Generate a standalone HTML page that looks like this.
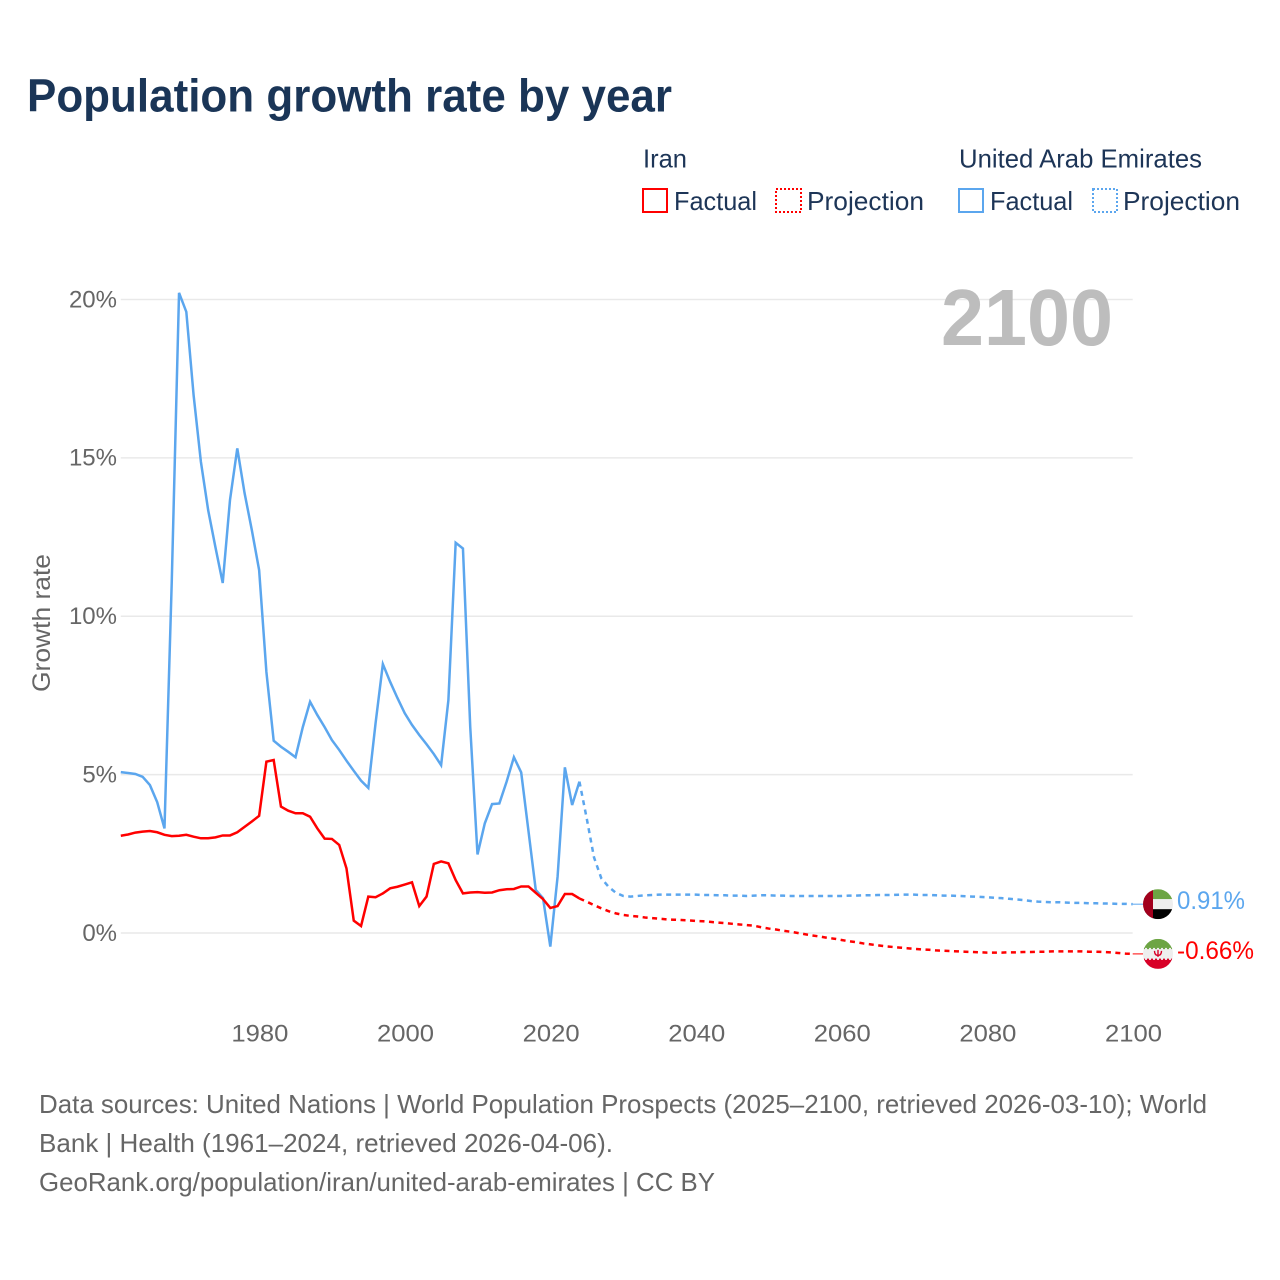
<!DOCTYPE html>
<html lang="en">
<head>
<meta charset="utf-8">
<title>Population growth rate by year</title>
<style>
  html, body { margin: 0; padding: 0; background: #fff; }
  svg { display: block; font-family: "Liberation Sans", Arial, sans-serif; }
</style>
</head>
<body>
<svg id="chart" xmlns="http://www.w3.org/2000/svg" width="1280" height="1280" viewBox="0 0 1280 1280">
  <rect x="0" y="0" width="1280" height="1280" fill="#ffffff"/>

  <text x="27" y="111.5" font-size="46" font-weight="700" fill="#1a3557" textLength="645" lengthAdjust="spacingAndGlyphs">Population growth rate by year</text>

  <g font-size="26" fill="#1d3557">
    <text x="643" y="167.5" textLength="44" lengthAdjust="spacingAndGlyphs">Iran</text>
    <text x="959" y="167.5" textLength="243" lengthAdjust="spacingAndGlyphs">United Arab Emirates</text>

    <rect x="643" y="189" width="24" height="23" fill="none" stroke="#ff0000" stroke-width="2"/>
    <text x="674" y="210" textLength="83" lengthAdjust="spacingAndGlyphs">Factual</text>
    <rect x="776" y="189" width="25" height="23" fill="none" stroke="#ff0000" stroke-width="2" stroke-dasharray="2 2"/>
    <text x="807" y="210" textLength="117" lengthAdjust="spacingAndGlyphs">Projection</text>

    <rect x="959" y="189" width="24" height="23" fill="none" stroke="#5ba6ee" stroke-width="2"/>
    <text x="990" y="210" textLength="83" lengthAdjust="spacingAndGlyphs">Factual</text>
    <rect x="1093" y="189" width="24" height="23" fill="none" stroke="#5ba6ee" stroke-width="2" stroke-dasharray="2 2"/>
    <text x="1123" y="210" textLength="117" lengthAdjust="spacingAndGlyphs">Projection</text>
  </g>

  <g id="grid"></g>
  <g id="y-ticks"></g>
  <g id="x-ticks"></g>

  <text transform="translate(50,623) rotate(-90)" text-anchor="middle" font-size="25" fill="#666666" textLength="138" lengthAdjust="spacingAndGlyphs">Growth rate</text>

  <text x="1113" y="345" text-anchor="end" font-size="80" font-weight="700" fill="#bdbdbd" textLength="172" lengthAdjust="spacingAndGlyphs">2100</text>

  <g id="series"></g>
  <g id="end-markers"></g>

  <g font-size="26" fill="#666666">
    <text x="39" y="1113" textLength="1168" lengthAdjust="spacingAndGlyphs">Data sources: United Nations | World Population Prospects (2025–2100, retrieved 2026-03-10); World</text>
    <text x="39" y="1152" textLength="574" lengthAdjust="spacingAndGlyphs">Bank | Health (1961–2024, retrieved 2026-04-06).</text>
    <text x="39" y="1191" textLength="676" lengthAdjust="spacingAndGlyphs">GeoRank.org/population/iran/united-arab-emirates | CC BY</text>
  </g>
</svg>

<script>
const factualStartYear = 1961;
const projectionStartYear = 2024;

const iranFactual = [3.07,3.11,3.17,3.2,3.22,3.18,3.1,3.06,3.07,3.1,3.04,2.99,2.99,3.02,3.08,3.08,3.18,3.35,3.52,3.7,
  5.41,5.46,3.99,3.86,3.78,3.78,3.67,3.3,2.98,2.97,2.78,2.04,0.39,0.22,1.15,1.13,1.25,1.41,1.46,1.53,
  1.6,0.85,1.15,2.18,2.26,2.2,1.67,1.25,1.28,1.29,1.27,1.28,1.35,1.38,1.39,1.47,1.47,1.27,1.07,0.79,
  0.85,1.23,1.23,1.09];

const uaeFactual = [5.08,5.05,5.02,4.93,4.67,4.13,3.3,11.1,20.21,19.61,16.98,14.88,13.35,12.18,11.05,13.67,15.3,13.89,12.72,11.46,
  8.24,6.07,5.88,5.72,5.55,6.5,7.3,6.88,6.5,6.09,5.78,5.44,5.12,4.81,4.58,6.63,8.49,7.93,7.42,6.94,
  6.57,6.25,5.96,5.65,5.3,7.35,12.32,12.14,6.51,2.48,3.46,4.07,4.09,4.78,5.55,5.07,3.22,1.36,1.1,-0.43,
  1.78,5.23,4.04,4.78];

const iranProjection = [1.09,0.99,0.88,0.78,0.69,0.62,0.57,0.54,0.52,0.49,0.47,0.45,0.43,0.42,0.41,0.4,0.38,
  0.37,0.35,0.33,0.31,0.29,0.27,0.25,0.23,0.18,0.14,
  0.11,0.07,0.04,0.0,-0.04,-0.08,-0.11,-0.15,-0.18,-0.22,
  -0.26,-0.29,-0.33,-0.36,-0.39,-0.42,-0.44,-0.46,-0.48,-0.5,
  -0.52,-0.53,-0.55,-0.56,-0.57,-0.58,-0.59,-0.6,-0.61,-0.62,
  -0.62,-0.62,-0.61,-0.61,-0.6,-0.6,-0.59,-0.59,-0.58,-0.58,
  -0.58,-0.58,-0.58,-0.59,-0.59,-0.6,-0.61,-0.63,-0.65,-0.66];

const uaeProjection = [4.78,3.62,2.39,1.73,1.46,1.27,1.17,1.15,1.17,1.19,1.2,1.21,1.21,1.21,1.21,1.21,1.21,
  1.2,1.2,1.19,1.19,1.18,1.18,1.17,1.18,1.19,1.19,
  1.18,1.18,1.17,1.17,1.17,1.17,1.17,1.17,1.17,1.17,
  1.18,1.18,1.19,1.19,1.2,1.2,1.2,1.21,1.21,1.21,
  1.2,1.2,1.19,1.18,1.18,1.17,1.16,1.15,1.14,1.13,
  1.11,1.1,1.08,1.06,1.04,1.01,0.99,0.98,0.97,0.97,
  0.96,0.95,0.95,0.94,0.94,0.93,0.93,0.92,0.92,0.91];

const yTickValues = [0,5,10,15,20];
const yTickLabels = ['0%','5%','10%','15%','20%'];
const xTickValues = [1980,2000,2020,2040,2060,2080,2100];
const xTickLabels = ['1980','2000','2020','2040','2060','2080','2100'];

const SVGNS = 'http://www.w3.org/2000/svg';
const RED = '#ff0000';
const BLUE = '#5ba6ee';

function xScale(year) {
  return 120.8 + (year - 1961) * (1132.7 - 120.8) / (2100 - 1961);
}
function yScale(value) {
  return 933 + value * (299.5 - 933) / 20;
}
function make(tag, attrs) {
  const el = document.createElementNS(SVGNS, tag);
  for (const k in attrs) el.setAttribute(k, attrs[k]);
  return el;
}
function pathFrom(values, startYear) {
  return values.map((v, i) => (i ? 'L' : 'M') + xScale(startYear + i).toFixed(2) + ' ' + yScale(v).toFixed(2)).join(' ');
}

const gridG = document.getElementById('grid');
const yG = document.getElementById('y-ticks');
yTickValues.forEach((v, i) => {
  const line = make('line', {x1: xScale(1961), x2: xScale(2100), y1: yScale(v), y2: yScale(v), stroke: '#e9e9e9', 'stroke-width': 1.4});
  
  
  gridG.appendChild(line);
  const t = make('text', {x: 117, y: yScale(v) + 7.8, 'text-anchor': 'end', 'font-size': 24, fill: '#666666'});
  
  
  t.textContent = yTickLabels[i];
  yG.appendChild(t);
});

const xG = document.getElementById('x-ticks');
xTickValues.forEach((v, i) => {
  const t = make('text', {x: xScale(v) + 0.8, y: 1041.3, 'text-anchor': 'middle', 'font-size': 24, fill: '#666666', textLength: 57, lengthAdjust: 'spacingAndGlyphs'});
  
  
  t.textContent = xTickLabels[i];
  xG.appendChild(t);
});

const seriesG = document.getElementById('series');

const uaeProjLine = make('path', {d: pathFrom(uaeProjection, projectionStartYear), fill: 'none', stroke: BLUE, 'stroke-width': 2.5, 'stroke-dasharray': '5 4.5'});


seriesG.appendChild(uaeProjLine);

const iranProjLine = make('path', {d: pathFrom(iranProjection, projectionStartYear), fill: 'none', stroke: RED, 'stroke-width': 2.5, 'stroke-dasharray': '5 4.5'});


seriesG.appendChild(iranProjLine);

const uaeLine = make('path', {d: pathFrom(uaeFactual, factualStartYear), fill: 'none', stroke: BLUE, 'stroke-width': 2.5, 'stroke-linejoin': 'miter'});


seriesG.appendChild(uaeLine);

const iranLine = make('path', {d: pathFrom(iranFactual, factualStartYear), fill: 'none', stroke: RED, 'stroke-width': 2.5, 'stroke-linejoin': 'miter'});


seriesG.appendChild(iranLine);

const markersG = document.getElementById('end-markers');
const flagX = 1158;
const flagR = 15;

function addClip(id, cy) {
  const cp = make('clipPath', {id: id});
  cp.appendChild(make('circle', {cx: flagX, cy: cy, r: flagR}));
  markersG.appendChild(cp);
}

/* UAE end marker */
const uaeEnd = uaeProjection[uaeProjection.length - 1];
const uaeY = yScale(uaeEnd);
const uaeConnector = make('line', {x1: xScale(2100), x2: flagX - flagR, y1: uaeY, y2: uaeY, stroke: BLUE, 'stroke-width': 1});


markersG.appendChild(uaeConnector);
addClip('clip-uae', uaeY);
const uaeFlag = make('g', {'clip-path': 'url(#clip-uae)'});


uaeFlag.appendChild(make('rect', {x: flagX - flagR, y: uaeY - flagR, width: 30, height: 10, fill: '#6da544'}));
uaeFlag.appendChild(make('rect', {x: flagX - flagR, y: uaeY - 5, width: 30, height: 10.5, fill: '#eeeeee'}));
uaeFlag.appendChild(make('rect', {x: flagX - flagR, y: uaeY + 5, width: 30, height: 10, fill: '#000000'}));
uaeFlag.appendChild(make('rect', {x: flagX - flagR, y: uaeY - flagR, width: 10, height: 30, fill: '#a2001d'}));
markersG.appendChild(uaeFlag);
const uaeLabel = make('text', {x: 1177, y: uaeY + 5, 'font-size': 25, fill: BLUE, textLength: 68, lengthAdjust: 'spacingAndGlyphs'});


uaeLabel.textContent = uaeEnd.toFixed(2) + '%';
markersG.appendChild(uaeLabel);

/* Iran end marker */
const iranEnd = iranProjection[iranProjection.length - 1];
const iranY = yScale(iranEnd);
const iranConnector = make('line', {x1: xScale(2100), x2: flagX - flagR, y1: iranY, y2: iranY, stroke: RED, 'stroke-width': 1});


markersG.appendChild(iranConnector);
addClip('clip-iran', iranY);
const iranFlag = make('g', {'clip-path': 'url(#clip-iran)'});


iranFlag.appendChild(make('rect', {x: flagX - flagR, y: iranY - flagR, width: 30, height: 30, fill: '#eeeeee'}));
iranFlag.appendChild(make('rect', {x: flagX - flagR, y: iranY - flagR, width: 30, height: 9, fill: '#6da544'}));
iranFlag.appendChild(make('rect', {x: flagX - flagR, y: iranY + 6, width: 30, height: 9, fill: '#d80027'}));
iranFlag.appendChild(make('line', {x1: flagX - flagR, x2: flagX + flagR, y1: iranY - 5.5, y2: iranY - 5.5, stroke: '#6da544', 'stroke-width': 1.5, 'stroke-dasharray': '2 2'}));
iranFlag.appendChild(make('line', {x1: flagX - flagR, x2: flagX + flagR, y1: iranY + 5.5, y2: iranY + 5.5, stroke: '#d80027', 'stroke-width': 1.5, 'stroke-dasharray': '2 2'}));
iranFlag.appendChild(make('path', {d: 'M' + (flagX - 3.5) + ' ' + (iranY - 3) + ' Q' + (flagX - 3.5) + ' ' + (iranY + 1.5) + ' ' + flagX + ' ' + (iranY + 1.5) + ' Q' + (flagX + 3.5) + ' ' + (iranY + 1.5) + ' ' + (flagX + 3.5) + ' ' + (iranY - 3) + ' M' + flagX + ' ' + (iranY - 4) + ' V' + (iranY + 3), fill: 'none', stroke: '#d80027', 'stroke-width': 1.4}));
markersG.appendChild(iranFlag);
const iranLabel = make('text', {x: 1177, y: iranY + 5, 'font-size': 25, fill: RED, textLength: 77, lengthAdjust: 'spacingAndGlyphs'});


iranLabel.textContent = iranEnd.toFixed(2) + '%';
markersG.appendChild(iranLabel);
</script>
</body>
</html>
